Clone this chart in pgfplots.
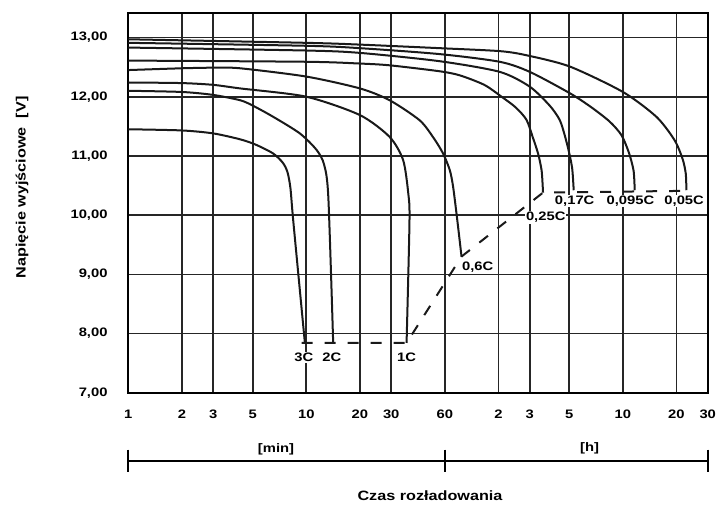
\documentclass[border=0pt]{standalone}
\usepackage{fontspec}
\setmainfont{Liberation Sans}[FakeStretch=1.2]
\usepackage{pgfplots}
\pgfplotsset{compat=1.18}
\begin{document}
\begin{tikzpicture}[font=\fontsize{12.3}{14}\selectfont\bfseries]
\begin{axis}[
  at={(0,0)}, anchor=south west,
  scale only axis, width=579.4pt, height=380pt,
  xmode=log, xmin=1, xmax=1800, ymin=7, ymax=13.419,
  xtick={1,2,3,5,10,20,30,60,120,180,300,600,1200,1800},
  xticklabels={1,2,3,5,10,20,30,60,2,3,5,10,20,30},
  minor xtick={}, minor x tick num=0,
  ytick={7,8,9,10,11,12,13},
  yticklabels={{7,00},{8,00},{9,00},{10,00},{11,00},{12,00},{13,00}},
  xmajorgrids=true, ymajorgrids=true, xminorgrids=false,
  major grid style={line width=1.6pt, color=black!85},
  axis line style={line width=2.2pt, black},
  major tick length=0pt, minor tick length=0pt,
  clip=false,
  xticklabel style={anchor=north, inner sep=0pt, yshift=-17pt},
  yticklabel style={anchor=east, inner sep=0pt, xshift=-20.6pt},
  every axis plot/.append style={line width=2pt, black!90},
]
% 3C
\addplot[smooth, tension=0.45] coordinates {(1,11.45)(2,11.43)(3,11.38)(4.25,11.28)(5.2,11.19)(6.52,11.04)(7.4,10.88)(7.85,10.72)(8.15,10.45)(8.45,9.90)(9.82,7.84)};
% 2C
\addplot[smooth, tension=0.45] coordinates {(1,12.10)(2,12.08)(3,12.03)(4.25,11.94)(5,11.85)(6.52,11.66)(9.2,11.38)(11.43,11.10)(12.6,10.85)(13.3,10.30)(14.16,7.84)};
% 1C
\addplot[smooth, tension=0.45] coordinates {(1,12.24)(2,12.23)(3,12.20)(4.25,12.14)(10,12.0)(20,11.69)(29.4,11.32)(35,10.93)(37.4,10.37)(38.0,9.90)(36.6,7.84)};
% 0.6C
\addplot[smooth, tension=0.45] coordinates {(1,12.45)(2,12.48)(3,12.49)(4.25,12.48)(10,12.34)(20,12.14)(29.4,11.94)(43.4,11.60)(52,11.30)(58.7,11.04)(64,10.76)(66.8,10.48)(70.5,9.92)(74.5,9.30)};
% 0.25C
\addplot[smooth, tension=0.45] coordinates {(1,12.61)(10,12.59)(20,12.56)(29.4,12.53)(56,12.43)(73,12.36)(100,12.20)(125,12.0)(150,11.82)(172.6,11.61)(187,11.32)(200.5,11.04)(210,10.75)(213.8,10.38)};
% 0.17C
\addplot[smooth, tension=0.45] coordinates {(1,12.83)(10,12.78)(20,12.74)(56,12.60)(122,12.42)(180,12.17)(233,11.85)(265,11.61)(283,11.35)(300,11.05)(312,10.78)(318,10.42)};
% 0.095C
\addplot[smooth, tension=0.45] coordinates {(1,12.91)(10,12.86)(20,12.82)(56,12.72)(122,12.59)(180,12.42)(302,12.06)(400,11.82)(506,11.58)(590,11.35)(650,11.05)(690,10.75)(700,10.42)};
% 0.05C
\addplot[smooth, tension=0.45] coordinates {(1,12.97)(10,12.91)(20,12.88)(56,12.82)(122,12.77)(172.6,12.70)(302,12.51)(601,12.08)(927,11.66)(1170,11.27)(1300,10.95)(1355,10.70)(1366,10.42)};
% end-of-discharge line
\addplot[line width=2pt, dash pattern=on 11pt off 12pt] coordinates {(9.41,7.84)(36.6,7.84)(74.5,9.30)(213.8,10.38)(1366,10.41)};
\begin{scope}[every node/.style={fill=white, inner sep=1pt}]
\node at (axis cs:9.69,7.595) {3C};
\node at (axis cs:13.92,7.595) {2C};
\node at (axis cs:36.6,7.595) {1C};
\node at (axis cs:91.9,9.115) {0,6C};
\node at (axis cs:221.4,9.959) {0,25C};
\node at (axis cs:322,10.238) {0,17C};
\node at (axis cs:662,10.238) {0,095C};
\node at (axis cs:1327,10.238) {0,05C};
\end{scope}
\end{axis}
\draw[line width=2pt] (0,-68pt) -- (579.4pt,-68pt);
\foreach \x in {0pt,316.7pt,579.4pt} \draw[line width=2pt] (\x,-57pt) -- (\x,-79pt);
\node at (147.7pt,-56.3pt) {[min]};
\node at (461.2pt,-55.3pt) {[h]};
\node[font=\fontsize{13.5}{16}\selectfont\bfseries] at (301.7pt,-102.8pt) {Czas rozładowania};
\node[font=\fontsize{13.5}{16}\selectfont\bfseries, rotate=90] at (-106.3pt,205.2pt) {Napięcie wyjściowe\ \ [V]};
\pgfresetboundingbox
\path[use as bounding box] (-128.3pt,-111.3pt) rectangle (590.7pt,392.7pt);
\end{tikzpicture}
\end{document}
